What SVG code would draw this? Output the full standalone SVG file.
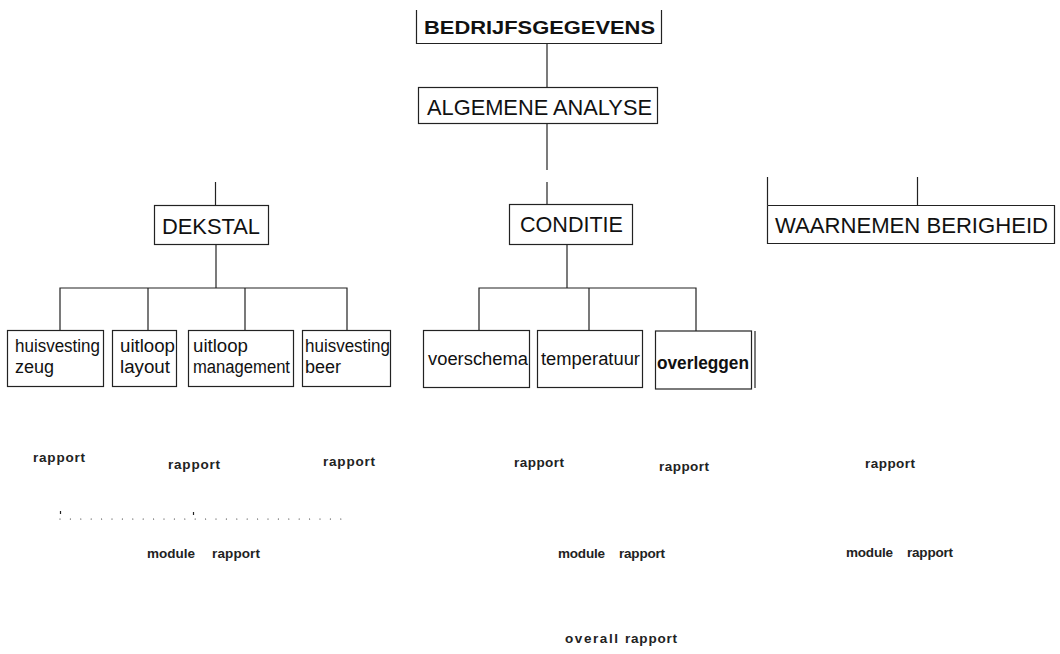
<svg xmlns="http://www.w3.org/2000/svg" width="1060" height="654" viewBox="0 0 1060 654">
<style>
.box{fill:none;stroke:#222;stroke-width:1.2}
.ln{fill:none;stroke:#222;stroke-width:1.2}
.big{font-family:"Liberation Sans",Arial,sans-serif;font-size:22px;fill:#111}
.mid{font-family:"Liberation Sans",Arial,sans-serif;font-size:18px;fill:#111}
.lab{font-family:"Liberation Sans",Arial,sans-serif;font-size:13.5px;font-weight:bold;fill:#222}
</style>
<rect width="1060" height="654" fill="#fff"/>
<g id="connectors">
<path class="ln" d="M547,43.5 V87.5"/>
<path class="ln" d="M547,123.5 V170"/>
<path class="ln" d="M547,182 V205" stroke-width="2"/>
<path class="ln" d="M215.5,182 V205" stroke-width="2"/>
<path class="ln" d="M216,244.5 V288"/>
<path class="ln" d="M60,330 V288 H347 V330 M148,288 V330 M245,288 V330"/>
<path class="ln" d="M567,244.5 V288"/>
<path class="ln" d="M479,330 V288 H696 V331 M589,288 V330"/>
<path class="ln" d="M767.5,177 V205.5 M917.5,177 V205.5"/>
<path class="ln" d="M60,519 H343" stroke-width="2" stroke-linecap="round" stroke-dasharray="0 10.4"/>
<path class="ln" d="M60.5,511 V514 M193.5,512 V515" stroke-width="1"/>
</g>
<g id="bedrijfsgegevens">
<path class="box" d="M416.5,10 V43.5 H661.5 V10"/>
<text class="mid" x="424" y="34" font-weight="bold" textLength="231" lengthAdjust="spacingAndGlyphs">BEDRIJFSGEGEVENS</text>
</g>
<g id="algemene-analyse">
<rect class="box" x="418.5" y="87.5" width="239" height="36"/>
<text class="big" x="427" y="115" font-size="23" textLength="225" lengthAdjust="spacingAndGlyphs">ALGEMENE ANALYSE</text>
</g>
<g id="dekstal">
<rect class="box" x="154.5" y="205.5" width="114" height="39"/>
<text class="big" x="162" y="234" textLength="98" lengthAdjust="spacingAndGlyphs">DEKSTAL</text>
</g>
<g id="conditie">
<rect class="box" x="509.5" y="204.5" width="123" height="40"/>
<text class="big" x="520" y="232" textLength="103" lengthAdjust="spacingAndGlyphs">CONDITIE</text>
</g>
<g id="waarnemen-berigheid">
<path class="box" d="M767.5,205.5 H1054.5 V243.5 H767.5 V205.5"/>
<text class="big" x="775" y="233" textLength="273" lengthAdjust="spacingAndGlyphs">WAARNEMEN  BERIGHEID</text>
</g>
<g id="huisvesting-zeug">
<rect class="box" x="7.5" y="330.5" width="96" height="56"/>
<text class="mid" x="15" y="352" textLength="85" lengthAdjust="spacingAndGlyphs">huisvesting</text>
<text class="mid" x="15" y="373">zeug</text>
</g>
<g id="uitloop-layout">
<rect class="box" x="112.5" y="330.5" width="64" height="56"/>
<text class="mid" x="120" y="352" textLength="55" lengthAdjust="spacingAndGlyphs">uitloop</text>
<text class="mid" x="120" y="373" textLength="50" lengthAdjust="spacingAndGlyphs">layout</text>
</g>
<g id="uitloop-management">
<rect class="box" x="188.5" y="330.5" width="105" height="56"/>
<text class="mid" x="193" y="352" textLength="55" lengthAdjust="spacingAndGlyphs">uitloop</text>
<text class="mid" x="193" y="373" textLength="97" lengthAdjust="spacingAndGlyphs">management</text>
</g>
<g id="huisvesting-beer">
<rect class="box" x="302.5" y="330.5" width="88" height="56"/>
<text class="mid" x="305" y="352" textLength="85" lengthAdjust="spacingAndGlyphs">huisvesting</text>
<text class="mid" x="305" y="373">beer</text>
</g>
<g id="voerschema">
<rect class="box" x="423.5" y="330.5" width="106" height="57"/>
<text class="mid" x="428" y="365" textLength="100" lengthAdjust="spacingAndGlyphs">voerschema</text>
</g>
<g id="temperatuur">
<rect class="box" x="537.5" y="330.5" width="105" height="57"/>
<text class="mid" x="541" y="365" textLength="99" lengthAdjust="spacingAndGlyphs">temperatuur</text>
</g>
<g id="overleggen">
<rect class="box" x="655.5" y="331" width="96" height="58"/>
<path class="ln" d="M755,331 V388" stroke-width="2.5"/>
<text class="mid" x="657" y="369" font-weight="bold" textLength="92" lengthAdjust="spacingAndGlyphs">overleggen</text>
</g>
<g id="labels">
<text class="lab" x="33" y="462" textLength="52" lengthAdjust="spacing">rapport</text>
<text class="lab" x="168" y="469" textLength="52" lengthAdjust="spacing">rapport</text>
<text class="lab" x="323" y="466" textLength="52" lengthAdjust="spacing">rapport</text>
<text class="lab" x="514" y="467" textLength="50" lengthAdjust="spacing">rapport</text>
<text class="lab" x="659" y="471" textLength="50" lengthAdjust="spacing">rapport</text>
<text class="lab" x="865" y="468" textLength="50" lengthAdjust="spacing">rapport</text>
<text class="lab" x="147" y="558"><tspan textLength="48" lengthAdjust="spacing">module</tspan><tspan x="212" textLength="48" lengthAdjust="spacing">rapport</tspan></text>
<text class="lab" x="558" y="558"><tspan textLength="47" lengthAdjust="spacing">module</tspan><tspan x="619" textLength="46" lengthAdjust="spacing">rapport</tspan></text>
<text class="lab" x="846" y="557"><tspan textLength="47" lengthAdjust="spacing">module</tspan><tspan x="907" textLength="46" lengthAdjust="spacing">rapport</tspan></text>
<text class="lab" x="565" y="643"><tspan textLength="53" lengthAdjust="spacing">overall</tspan><tspan x="625" textLength="52" lengthAdjust="spacing">rapport</tspan></text>
</g>
</svg>
